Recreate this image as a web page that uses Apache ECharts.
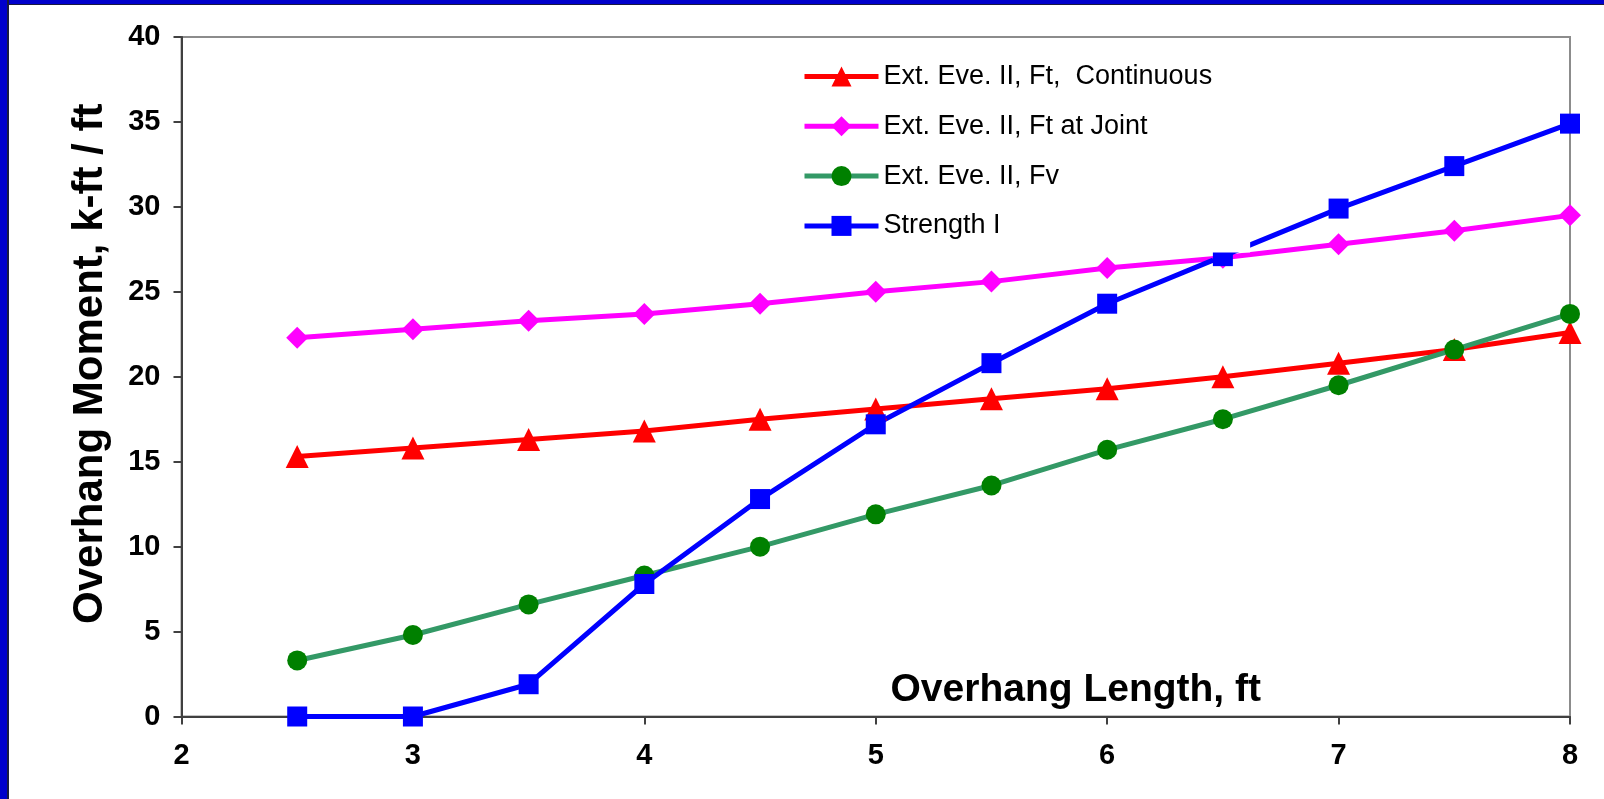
<!DOCTYPE html>
<html>
<head>
<meta charset="utf-8">
<script src="https://cdn.jsdelivr.net/npm/echarts@6/dist/echarts.min.js"></script>
<style>
  html, body { margin: 0; padding: 0; background: #ffffff; }
  #chart { position: absolute; left: 0; top: 0; width: 1604px; height: 799px; }
  .frameL { position: absolute; left: 0; top: 0; width: 7px; height: 799px; background: #0000cc; border-right: 2px solid #1a1a40; z-index: 10; }
  .frameT { position: absolute; left: 0; top: 0; width: 1604px; height: 4px; background: #0000cc; border-bottom: 1px solid #1a1a40; z-index: 10; }
</style>
</head>
<body>
<div id="chart"></div>
<div class="frameT"></div>
<div class="frameL"></div>
<script>
const overhangLength = [2.5, 3, 3.5, 4, 4.5, 5, 5.5, 6, 6.5, 7, 7.5, 8];
const ftContinuous = [15.3, 15.8, 16.3, 16.8, 17.5, 18.1, 18.7, 19.3, 20.0, 20.8, 21.6, 22.6];
const ftAtJoint = [22.3, 22.8, 23.3, 23.7, 24.3, 25.0, 25.6, 26.4, 27.0, 27.8, 28.6, 29.5];
const fv = [3.3, 4.8, 6.6, 8.3, 10.0, 11.9, 13.6, 15.7, 17.5, 19.5, 21.6, 23.7];
const strengthI = [0, 0, 1.9, 7.8, 12.8, 17.2, 20.8, 24.3, 27.1, 29.9, 32.4, 34.9];

const seriesNames = ['Ext. Eve. II, Ft,  Continuous', 'Ext. Eve. II, Ft at Joint', 'Ext. Eve. II, Fv', 'Strength I'];
const xTitle = 'Overhang Length, ft';
const yTitle = 'Overhang Moment, k-ft / ft';

function pairs(ys) { return overhangLength.map((x, i) => [x, ys[i]]); }

const FONT = 'Arial, "Liberation Sans", sans-serif';
const chart = echarts.init(document.getElementById('chart'), null, { renderer: 'canvas' });
chart.setOption({
  animation: false,
  backgroundColor: '#ffffff',
  grid: {
    left: 181.5, right: 34, top: 37, bottom: 82.5,
    show: true, borderColor: '#8c8c8c', borderWidth: 2, backgroundColor: '#ffffff'
  },
  legend: {
    orient: 'vertical',
    left: 792, top: 48,
    padding: [15, 38, 13, 10],
    backgroundColor: '#ffffff',
    itemGap: 22.8,
    itemWidth: 74,
    itemHeight: 25,
    lineStyle: { width: 5 },
    textStyle: { fontFamily: FONT, fontSize: 27, color: '#000', padding: [0, 0, 0, 0] },
    data: seriesNames
  },
  xAxis: {
    type: 'value', min: 2, max: 8, interval: 1,
    name: xTitle, nameLocation: 'middle', nameGap: -46,
    nameTextStyle: { fontFamily: FONT, fontSize: 39, fontWeight: 'bold', color: '#000', padding: [0, 0, 0, 400] },
    axisLine: { show: true, lineStyle: { color: '#404040', width: 2 } },
    axisTick: { show: true, length: 8, lineStyle: { color: '#404040', width: 2 } },
    axisLabel: { fontFamily: FONT, fontSize: 29, fontWeight: 'bold', color: '#000', margin: 25 },
    splitLine: { show: false }
  },
  yAxis: {
    type: 'value', min: 0, max: 40, interval: 5,
    name: yTitle, nameLocation: 'middle', nameGap: 70, nameRotate: 90,
    nameTextStyle: { fontFamily: FONT, fontSize: 42, fontWeight: 'bold', color: '#000', padding: [0, 0, 0, 26] },
    axisLine: { show: true, lineStyle: { color: '#404040', width: 2 } },
    axisTick: { show: true, length: 8, lineStyle: { color: '#404040', width: 2 } },
    axisLabel: { fontFamily: FONT, fontSize: 29, fontWeight: 'bold', color: '#000', margin: 21 },
    splitLine: { show: false }
  },
  series: [
    {
      name: seriesNames[0], type: 'line', data: pairs(ftContinuous),
      symbol: 'triangle', symbolSize: 23,
      lineStyle: { color: '#ff0000', width: 5 }, itemStyle: { color: '#ff0000' }
    },
    {
      name: seriesNames[1], type: 'line', data: pairs(ftAtJoint),
      symbol: 'diamond', symbolSize: [22, 22],
      lineStyle: { color: '#ff00ff', width: 5 }, itemStyle: { color: '#ff00ff' }
    },
    {
      name: seriesNames[2], type: 'line', data: pairs(fv),
      symbol: 'circle', symbolSize: 20,
      lineStyle: { color: '#339966', width: 5 }, itemStyle: { color: '#008000' }
    },
    {
      name: seriesNames[3], type: 'line', data: pairs(strengthI),
      symbol: 'rect', symbolSize: 20,
      lineStyle: { color: '#0000ff', width: 5 }, itemStyle: { color: '#0000ff' }
    }
  ]
});
</script>
</body>
</html>
